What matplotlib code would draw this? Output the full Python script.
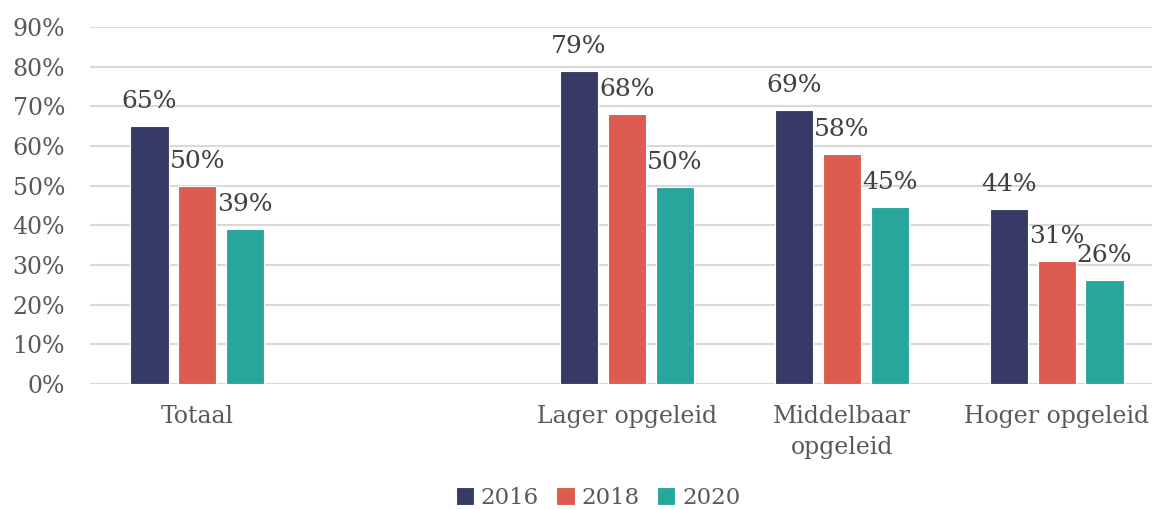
import matplotlib
matplotlib.use("Agg")
import matplotlib.pyplot as plt
import numpy as np

categories = ["Totaal", "", "Lager opgeleid", "Middelbaar\nopgeleid", "Hoger opgeleid"]
years = ["2016", "2018", "2020"]
v2016 = [65, None, 79, 69, 44]
v2018 = [50, None, 68, 58, 31]
v2020 = [39, None, 49.6, 44.7, 26.3]
colors = ["#373A65", "#DD5B4F", "#29A69B"]

plt.rcParams['font.family'] = ['DejaVu Serif']
txt = "#595959"
fig = plt.figure(figsize=(11.52, 5.09), dpi=100)
ax = fig.add_axes([90/1152, 1-384/509, 1074/1152, 357/509])

x = np.arange(len(categories))
w = 0.177
off = 0.223
for i, (vals, yr) in enumerate(zip([v2016, v2018, v2020], years)):
    xs = [xi + (i-1)*off for xi, v in zip(x, vals) if v is not None]
    hs = [v for v in vals if v is not None]
    ax.bar(xs, hs, width=w, color=colors[i], edgecolor="white", linewidth=0.8, label=yr, zorder=3)
    for xx, h in zip(xs, hs):
        ax.text(xx, h + 3.3, f"{round(h):d}%", ha="center", va="bottom", fontsize=18, color="#404040", zorder=4)

ax.set_xlim(-0.5, 4.5)
ax.set_ylim(0, 90)
ax.set_yticks(range(0, 91, 10))
ax.set_yticklabels([f"{t}%" for t in range(0, 91, 10)], fontsize=17, color=txt)
ax.set_xticks(x)
ax.set_xticklabels(categories, fontsize=17, color=txt, linespacing=1.45)
ax.tick_params(axis="both", length=0)
ax.tick_params(axis="x", pad=15)
ax.tick_params(axis="y", pad=18)
ax.yaxis.grid(True, color="#D9D9D9", linewidth=1.5, zorder=0)
for s in ax.spines.values():
    s.set_visible(False)

leg = fig.legend(loc="center", bbox_to_anchor=(598/1152, 1-498/509), ncol=3, frameon=False,
                 fontsize=16.5, handlelength=0.8, handleheight=0.8, handletextpad=0.3, columnspacing=0.75)
for t in leg.get_texts():
    t.set_color(txt)

fig.savefig("out.png", dpi=100)
